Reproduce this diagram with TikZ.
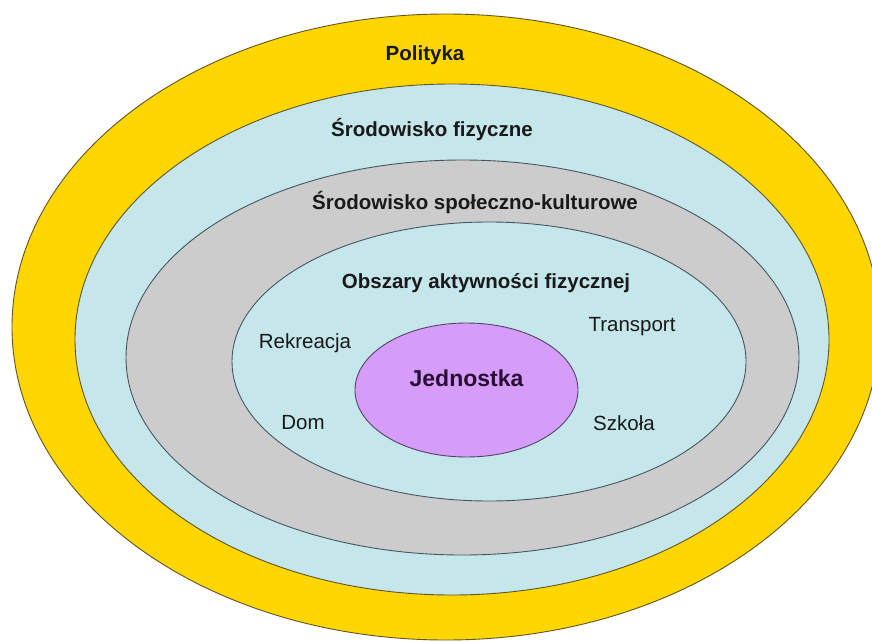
\documentclass[tikz,border=0pt]{standalone}
\usepackage{fontspec}
\setmainfont{Liberation Sans}
\usetikzlibrary{shapes.geometric}
\definecolor{polyY}{RGB}{255,214,0}
\definecolor{lblue}{RGB}{197,231,235}
\definecolor{lgray}{RGB}{204,204,204}
\definecolor{lviolet}{RGB}{214,156,250}
\definecolor{edgeY}{RGB}{95,85,40}
\definecolor{edgeB}{RGB}{70,85,95}
\definecolor{txt}{RGB}{25,25,25}
\tikzset{
  ring/.style={ellipse, inner sep=0pt, outer sep=0pt, line width=0.9pt},
  boldlab/.style={font=\fontsize{20.5}{24}\selectfont\bfseries, text=txt, inner sep=0pt},
  plainlab/.style={font=\fontsize{20.5}{24}\selectfont, text=txt, inner sep=0pt},
  centerlab/.style={font=\fontsize{23}{27}\selectfont\bfseries, text={rgb,255:red,40;green,15;blue,50}, inner sep=0pt}
}
\begin{document}
\begin{tikzpicture}[x=1pt,y=-1pt]
\useasboundingbox (0,0) rectangle (872,642);
\clip (0,0) rectangle (872,642);
\fill[white] (0,0) rectangle (872,642);
\node[ring, draw=edgeY, fill=polyY, minimum width=868pt, minimum height=626pt] (polityka) at (446,327) {};
\node[ring, draw=edgeY, fill=lblue, minimum width=754pt, minimum height=511pt] (fizyczne) at (452,339.5) {};
\node[ring, draw=edgeB, fill=lgray, minimum width=673pt, minimum height=395pt] (spoleczne) at (462.5,357.5) {};
\node[ring, draw=edgeB, fill=lblue, minimum width=514pt, minimum height=279pt] (obszary) at (489,361.5) {};
\node[ring, draw=edgeB!80!violet, fill=lviolet, minimum width=223pt, minimum height=134pt] (jednostka) at (466.5,390) {};

\node[boldlab] (tpol) at (425,55) {Polityka};
\node[boldlab] (tfiz) at (432,130) {Środowisko fizyczne};
\node[boldlab] (tspo) at (475,203) {Środowisko społeczno-kulturowe};
\node[boldlab] (tobs) at (486,283) {Obszary aktywności fizycznej};
\node[plainlab] (trek) at (305,343) {Rekreacja};
\node[plainlab] (ttra) at (632,327) {Transport};
\node[plainlab] (tdom) at (303,423) {Dom};
\node[plainlab] (tszk) at (624,423) {Szkoła};
\node[centerlab] (tjed) at (466.5,378) {Jednostka};
\end{tikzpicture}
\end{document}
